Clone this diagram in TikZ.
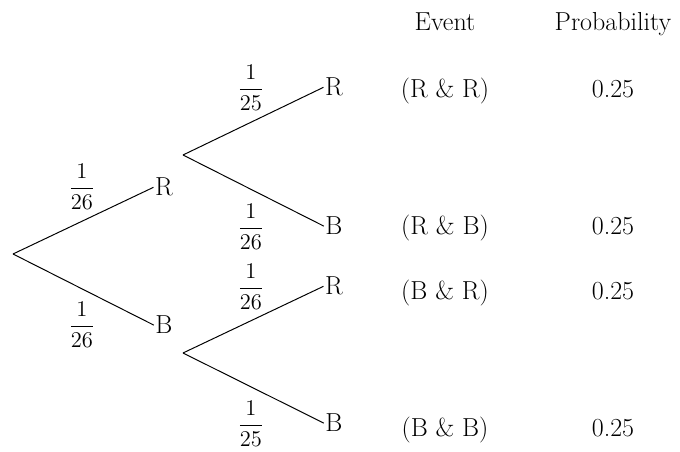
\documentclass[tikz,border=0pt]{standalone}
\usepackage{fix-cm}
\usepackage{amsmath, amssymb}
\usepackage{tikz}

\begin{document}
\begin{tikzpicture}[x=0.025cm, y=-0.025cm,
    txt/.style={font=\fontsize{18.5}{22}\selectfont, inner sep=1pt},
    frac/.style={font=\fontsize{16}{19}\selectfont, inner sep=1pt},
    branch/.style={line width=0.7pt}]
    \useasboundingbox (0,0) rectangle (680,452);

    % First draw
    \coordinate (root) at (13,254);
    \node[txt, anchor=base] (r) at (164,196) {R};
    \node[txt, anchor=base] (b) at (164,334) {B};
    \draw[branch] (root) -- (r.west);
    \draw[branch] (root) -- (b.west);
    \node[frac] (pr) at (82,187) {$\dfrac{1}{26}$};
    \node[frac] (pb) at (82,325) {$\dfrac{1}{26}$};

    % Second draw
    \coordinate (rfork) at (183,155);
    \coordinate (bfork) at (183,353);
    \node[txt, anchor=base] (rr) at (334,96) {R};
    \node[txt, anchor=base] (rb) at (334,235) {B};
    \node[txt, anchor=base] (br) at (334,295) {R};
    \node[txt, anchor=base] (bb) at (334,432) {B};
    \draw[branch] (rfork) -- (rr.west);
    \draw[branch] (rfork) -- (rb.west);
    \draw[branch] (bfork) -- (br.west);
    \draw[branch] (bfork) -- (bb.west);
    \node[frac] (prr) at (251,88) {$\dfrac{1}{25}$};
    \node[frac] (prb) at (251,227) {$\dfrac{1}{26}$};
    \node[frac] (pbr) at (251,287) {$\dfrac{1}{26}$};
    \node[frac] (pbb) at (251,424) {$\dfrac{1}{25}$};

    % Table
    \node[txt, anchor=base] (event) at (445,31) {Event};
    \node[txt, anchor=base] (prob) at (613,31) {Probability};
    \node[txt, anchor=base] (err) at (445,98) {(R \& R)};
    \node[txt, anchor=base] (erb) at (445,235) {(R \& B)};
    \node[txt, anchor=base] (ebr) at (445,300) {(B \& R)};
    \node[txt, anchor=base] (ebb) at (445,437) {(B \& B)};
    \node[txt, anchor=base] (qrr) at (613,98) {0.25};
    \node[txt, anchor=base] (qrb) at (613,235) {0.25};
    \node[txt, anchor=base] (qbr) at (613,300) {0.25};
    \node[txt, anchor=base] (qbb) at (613,437) {0.25};
\end{tikzpicture}
\end{document}
